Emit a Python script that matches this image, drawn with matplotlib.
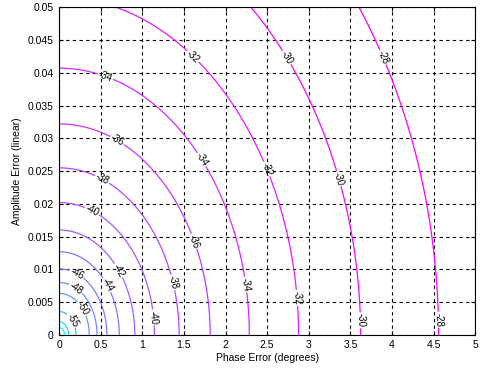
import numpy as np
import matplotlib
matplotlib.use("Agg")
import matplotlib.pyplot as plt

plt.rcParams["font.family"] = ["Liberation Sans", "DejaVu Sans"]

# Contour levels of image rejection (dB)
levels = [-65, -60, -55, -50, -48, -46, -44, -42, -40, -38, -36, -34, -32, -30, -28]

# Where each inline label sits (phase deg, amplitude)
label_pos = [
    (3.86, 0.0422), (4.48, 0.0023),
    (2.69, 0.0420), (3.29, 0.0236), (3.87, 0.0023),
    (1.57, 0.0420), (2.45, 0.0251), (2.81, 0.0056),
    (0.55, 0.0392), (1.67, 0.0264), (2.20, 0.0076),
    (0.68, 0.0293), (1.60, 0.0142),
    (0.52, 0.0238), (1.33, 0.0079),
    (0.40, 0.0190), (1.09, 0.0026),
    (0.67, 0.0095), (0.53, 0.0073),
    (0.22, 0.0095), (0.19, 0.0069),
    (0.25, 0.0038), (0.13, 0.0020),
]

x_ticks = [0, 0.5, 1, 1.5, 2, 2.5, 3, 3.5, 4, 4.5, 5]
y_ticks = [0, 0.005, 0.01, 0.015, 0.02, 0.025, 0.03, 0.035, 0.04, 0.045, 0.05]
x_labels = ["0", "0.5", "1", "1.5", "2", "2.5", "3", "3.5", "4", "4.5", "5"]
y_labels = ["0", "0.005", "0.01", "0.015", "0.02", "0.025", "0.03", "0.035", "0.04", "0.045", "0.05"]

# image rejection surface for a quadrature mixer with phase/amplitude error
phase = np.linspace(0, 5, 400)
amp = np.linspace(0, 0.05, 400)
P, A = np.meshgrid(phase, amp)
g = 1 + A
th = np.deg2rad(P)
with np.errstate(divide="ignore"):
    irr = 10 * np.log10((1 - 2 * g * np.cos(th) + g**2) / (1 + 2 * g * np.cos(th) + g**2))
irr = np.nan_to_num(irr, neginf=-200)

fig = plt.figure(figsize=(4.8, 3.68), dpi=100)
ax = fig.add_axes([0.123, 0.09, 0.867, 0.89])

cs = ax.contour(P, A, irr, levels=levels, cmap="cool", linewidths=0.9)
ax.clabel(cs, fmt="%d", fontsize=7, colors="black", manual=label_pos,
          inline=True, inline_spacing=1)

ax.set_xlim(0, 5)
ax.set_ylim(0, 0.05)
ax.set_xticks(x_ticks)
ax.set_xticklabels(x_labels)
ax.set_yticks(y_ticks)
ax.set_yticklabels(y_labels)
ax.grid(True, color="black", linestyle=(0, (3, 3)), linewidth=0.8)
ax.tick_params(direction="in", top=True, right=True, labelsize=7.5, length=3, pad=4)
ax.set_xlabel("Phase Error (degrees)", fontsize=7.5, labelpad=2)
ax.set_ylabel("Amplitude Error (linear)", fontsize=7.5, labelpad=4)

fig.savefig("out.png", dpi=100)
